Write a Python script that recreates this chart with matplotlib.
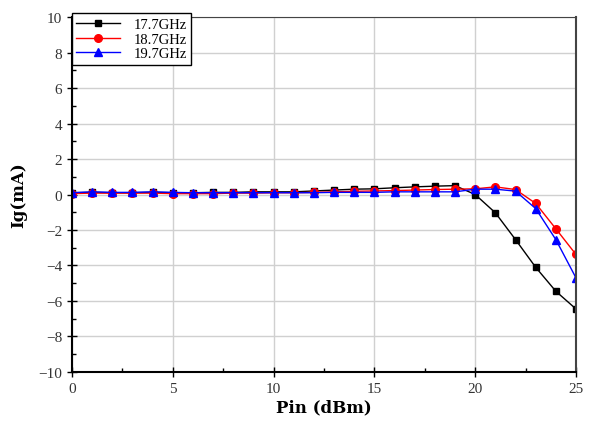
import matplotlib
matplotlib.use("Agg")
import matplotlib.pyplot as plt
from matplotlib.ticker import MultipleLocator

pin = list(range(0, 26))
ig_177 = [0.10, 0.12, 0.10, 0.10, 0.12, 0.10, 0.10, 0.12, 0.12, 0.15, 0.15, 0.15, 0.20,
          0.25, 0.30, 0.32, 0.38, 0.43, 0.47, 0.50, 0.00, -1.03, -2.54, -4.10, -5.45, -6.45]
ig_187 = [0.05, 0.08, 0.08, 0.08, 0.08, 0.05, 0.05, 0.05, 0.08, 0.08, 0.10, 0.10, 0.12,
          0.15, 0.18, 0.20, 0.22, 0.25, 0.28, 0.30, 0.32, 0.43, 0.28, -0.50, -1.93, -3.38]
ig_197 = [0.10, 0.15, 0.12, 0.12, 0.15, 0.12, 0.10, 0.10, 0.10, 0.10, 0.10, 0.10, 0.10,
          0.12, 0.12, 0.12, 0.15, 0.15, 0.15, 0.15, 0.30, 0.30, 0.19, -0.79, -2.54, -4.70]
labels = ["17.7GHz", "18.7GHz", "19.7GHz"]

plt.rcParams["font.family"] = ["Liberation Serif", "DejaVu Serif"]

fig = plt.figure(figsize=(5.91, 4.27), dpi=100)
ax = fig.add_axes([0.1218, 0.1265, 0.8528, 0.8313])

# three frequency curves
ax.plot(pin, ig_177, color="black", marker="s", markersize=5, linewidth=1, label=labels[0])
ax.plot(pin, ig_187, color="red", marker="o", markersize=5.5, linewidth=1, label=labels[1])
ax.plot(pin, ig_197, color="blue", marker="^", markersize=6, linewidth=1, label=labels[2])

ax.set_xlim(0, 25)
ax.set_ylim(-10, 10)
ax.xaxis.set_major_locator(MultipleLocator(5))
ax.xaxis.set_minor_locator(MultipleLocator(2.5))
ax.yaxis.set_major_locator(MultipleLocator(2))
ax.yaxis.set_minor_locator(MultipleLocator(1))
ax.tick_params(which="major", direction="inout", length=7, width=1, labelsize=11,
               labelcolor="#333333")
ax.tick_params(which="minor", direction="in", length=3, width=1)

# grid and frame
ax.grid(True, which="major", color="#d0d0d0", linewidth=1)
ax.set_axisbelow(True)
for side in ["left", "bottom"]:
    ax.spines[side].set_linewidth(1.5)
ax.spines["top"].set_color("#444444")
ax.spines["right"].set_color("#444444")
ax.spines["right"].set_linewidth(1.5)

ax.set_xlabel("Pin (dBm)", fontsize=12, fontweight="bold", family=["DejaVu Serif"], labelpad=3)
ax.set_ylabel("Ig(mA)", fontsize=12, fontweight="bold", family=["DejaVu Serif"], labelpad=8)

leg = ax.legend(loc="upper left", bbox_to_anchor=(0.0, 1.01), borderaxespad=0,
                fontsize=10.5, fancybox=False, framealpha=1, edgecolor="black",
                handlelength=3, handletextpad=0.9, labelspacing=0.1, borderpad=0.3)
leg.get_frame().set_linewidth(1)

fig.savefig("out.png", dpi=100)
